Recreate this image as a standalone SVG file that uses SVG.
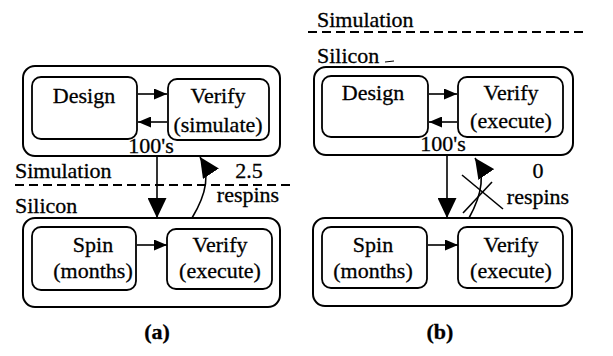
<svg xmlns="http://www.w3.org/2000/svg" width="613" height="356" viewBox="0 0 613 356">
<style>
  text { font-family: 'Liberation Serif', 'Times New Roman', 'DejaVu Serif', serif; font-size: 22px; fill: #000; stroke: #000; stroke-width: 0.3; }
  .c { text-anchor: middle; }
  .b { font-weight: bold; }
  .outer { fill: none; stroke: #000; stroke-width: 2; }
  .inner { fill: none; stroke: #000; stroke-width: 1.8; }
  .ln { fill: none; stroke: #000; stroke-width: 1.6; }
  .dash { fill: none; stroke: #000; stroke-width: 2; stroke-dasharray: 9 5; }
</style>
<defs>
  <marker id="sm" markerUnits="userSpaceOnUse" markerWidth="13" markerHeight="11" refX="13" refY="5.5" orient="auto">
    <path d="M0,0 L13,5.5 L0,11 z" fill="#000"/>
  </marker>
  <marker id="bg" markerUnits="userSpaceOnUse" markerWidth="20" markerHeight="19" refX="20" refY="9.5" orient="auto">
    <path d="M0,0 L20,9.5 L0,19 z" fill="#000"/>
  </marker>
</defs>

<rect width="613" height="356" fill="#fff"/>

<!-- Panel (a) -->
<g id="a-top">
  <rect class="outer" x="23" y="66" width="257" height="90" rx="12"/>
</g>
<g id="a-design">
  <rect class="inner" x="32" y="77" width="105" height="62" rx="9"/>
  <text class="c" x="84" y="103">Design</text>
</g>
<g id="a-verify-sim">
  <rect class="inner" x="168" y="79" width="101" height="61" rx="9"/>
  <text class="c" x="218" y="103">Verify</text>
  <text class="c" x="218" y="132">(simulate)</text>
</g>
<g id="a-bottom">
  <rect class="outer" x="23" y="218" width="257" height="89" rx="12"/>
</g>
<g id="a-spin">
  <rect class="inner" x="32" y="227" width="104" height="63" rx="9"/>
  <text class="c" x="93" y="252">Spin</text>
  <text class="c" x="93" y="278">(months)</text>
</g>
<g id="a-verify-exe">
  <rect class="inner" x="167" y="229" width="105" height="60" rx="9"/>
  <text class="c" x="220" y="252">Verify</text>
  <text class="c" x="220" y="278">(execute)</text>
</g>
<g id="a-labels">
  <text class="c" x="151" y="153">100's</text>
  <text x="15" y="178">Simulation</text>
  <text x="15" y="213">Silicon</text>
  <text class="c" x="249" y="178">2.5</text>
  <text class="c" x="248" y="202">respins</text>
  <text class="c b" x="157" y="339">(a)</text>
</g>
<g id="a-connectors">
  <line class="dash" x1="15" y1="185" x2="290" y2="185"/>
  <line class="ln" x1="138" y1="94" x2="167" y2="94" marker-end="url(#sm)"/>
  <line class="ln" x1="167" y1="122" x2="138" y2="122" marker-end="url(#sm)"/>
  <line class="ln" x1="137" y1="245" x2="167" y2="245" marker-end="url(#sm)"/>
  <line class="ln" x1="157" y1="156" x2="157" y2="218" marker-end="url(#bg)"/>
  <path class="ln" d="M192,218 Q215,180 200,157" marker-end="url(#bg)"/>
</g>

<!-- Panel (b) -->
<g id="b-labels-top">
  <text x="317" y="27">Simulation</text>
  <line class="dash" x1="308" y1="32" x2="583" y2="32"/>
  <text x="317" y="63">Silicon</text>
  <line x1="385" y1="62" x2="394" y2="61" stroke="#000" stroke-width="1"/>
</g>
<g id="b-top">
  <rect class="outer" x="314" y="67" width="259" height="88" rx="12"/>
</g>
<g id="b-design">
  <rect class="inner" x="322" y="76" width="106" height="61" rx="9"/>
  <text class="c" x="373" y="100">Design</text>
</g>
<g id="b-verify-top">
  <rect class="inner" x="458" y="77" width="105" height="60" rx="9"/>
  <text class="c" x="511" y="100">Verify</text>
  <text class="c" x="511" y="128">(execute)</text>
</g>
<g id="b-bottom">
  <rect class="outer" x="313" y="218" width="259" height="88" rx="12"/>
</g>
<g id="b-spin">
  <rect class="inner" x="322" y="227" width="105" height="61" rx="9"/>
  <text class="c" x="373" y="252">Spin</text>
  <text class="c" x="373" y="278">(months)</text>
</g>
<g id="b-verify-bottom">
  <rect class="inner" x="458" y="227" width="105" height="61" rx="9"/>
  <text class="c" x="511" y="252">Verify</text>
  <text class="c" x="511" y="278">(execute)</text>
</g>
<g id="b-labels">
  <text class="c" x="443" y="151">100's</text>
  <text class="c" x="538" y="178">0</text>
  <text class="c" x="538" y="204">respins</text>
  <text class="c b" x="440" y="339">(b)</text>
</g>
<g id="b-connectors">
  <line class="ln" x1="429" y1="94" x2="457" y2="94" marker-end="url(#sm)"/>
  <line class="ln" x1="457" y1="122" x2="429" y2="122" marker-end="url(#sm)"/>
  <line class="ln" x1="428" y1="245" x2="458" y2="245" marker-end="url(#sm)"/>
  <line class="ln" x1="447" y1="155" x2="447" y2="218" marker-end="url(#bg)"/>
  <path class="ln" d="M469,218 Q490,180 475,158" marker-end="url(#bg)"/>
  <line class="ln" x1="462" y1="175" x2="503" y2="209"/>
  <line class="ln" x1="463" y1="213" x2="492" y2="182"/>
</g>
</svg>
